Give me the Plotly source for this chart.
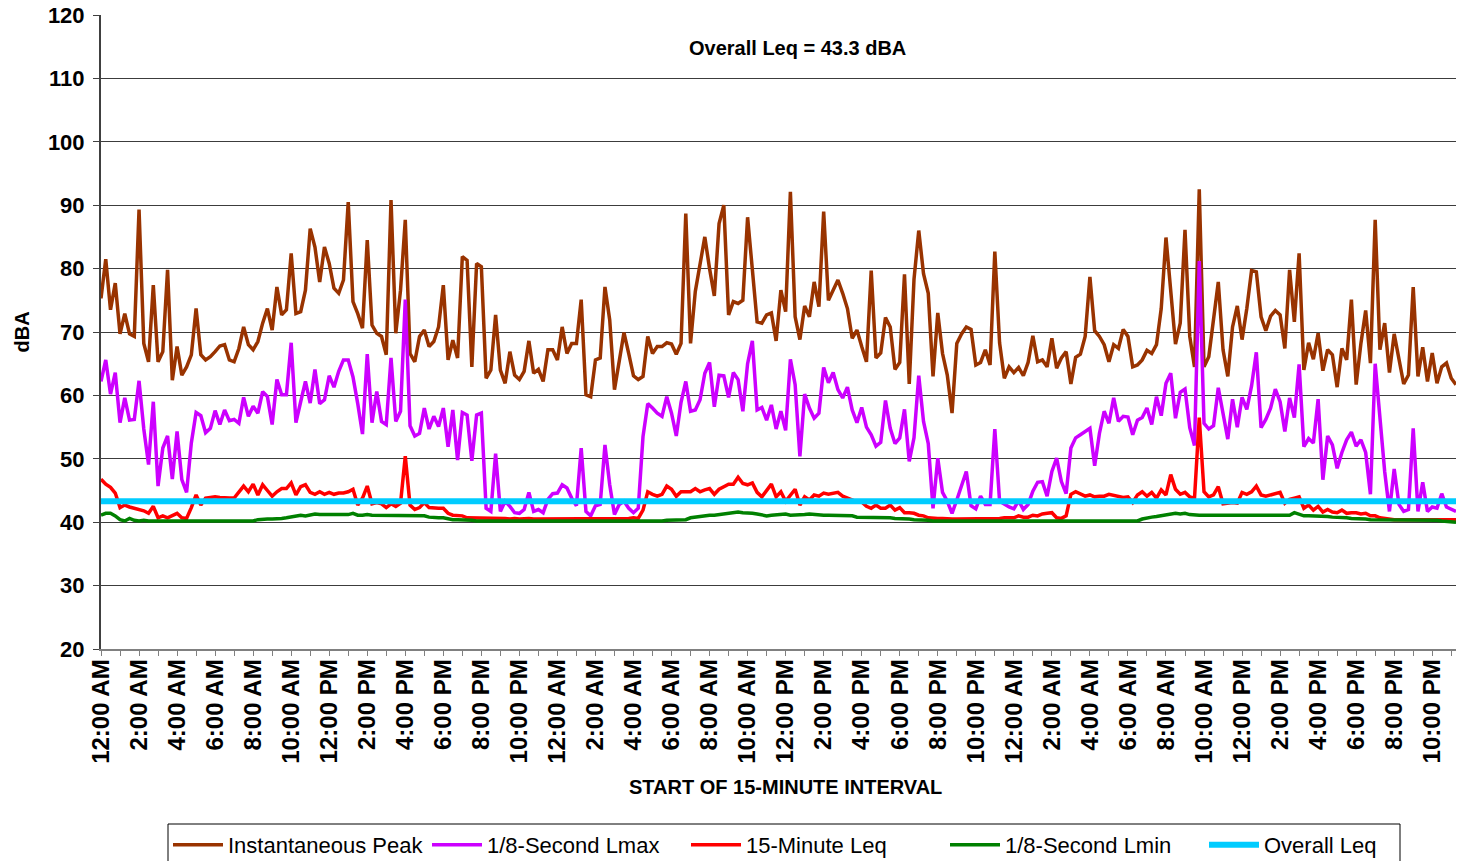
import plotly.graph_objects as go

FONT = "Arial, 'Liberation Sans', sans-serif"
PEAK_COLOR = "#993300"
LMAX_COLOR = "#CC00FF"
LEQ_COLOR = "#FF0000"
LMIN_COLOR = "#008000"
OVERALL_COLOR = "#00CCFF"
GRID_COLOR = "#3c3c3c"

# labels of the 2-hour ticks, one day
DAY_LABELS = ["12:00 AM", "2:00 AM", "4:00 AM", "6:00 AM", "8:00 AM", "10:00 AM",
              "12:00 PM", "2:00 PM", "4:00 PM", "6:00 PM", "8:00 PM", "10:00 PM"]
N_DAYS = 3

# 15-minute intervals
peak = [
    75.3, 81.5, 73.5, 77.7, 69.7, 72.9, 69.7, 69.3, 89.3, 68.2,
    65.3, 77.4, 65.3, 66.9, 79.8, 62.4, 67.7, 63.2, 64.5, 66.4,
    73.7, 66.4, 65.6, 66.1, 66.9, 67.8, 68.0, 65.6, 65.3, 67.4,
    70.8, 68.0, 67.2, 68.5, 71.4, 73.7, 70.3, 77.1, 72.7, 73.5,
    82.4, 72.9, 73.2, 76.6, 86.3, 83.4, 77.9, 83.4, 80.8, 76.9,
    76.1, 78.2, 90.5, 74.8, 72.9, 70.6, 84.5, 71.1, 69.8, 69.3,
    66.4, 90.8, 69.8, 76.6, 87.7, 66.6, 65.3, 69.3, 70.3, 67.7,
    68.5, 70.8, 77.4, 65.6, 68.7, 65.9, 81.9, 81.3, 64.5, 80.8,
    80.3, 62.7, 64.0, 72.7, 64.0, 61.9, 66.9, 63.2, 62.5, 63.8,
    68.6, 63.5, 64.1, 62.2, 67.2, 67.2, 65.6, 70.8, 66.6, 68.2,
    68.2, 75.1, 60.1, 59.8, 65.6, 65.9, 77.1, 71.9, 60.9, 65.6,
    69.9, 66.6, 63.1, 62.5, 63.0, 69.3, 66.6, 67.7, 67.7, 68.3,
    68.1, 66.5, 68.2, 88.7, 68.2, 76.4, 80.8, 85.0, 80.0, 75.7,
    87.1, 90.0, 72.7, 74.8, 74.5, 75.0, 88.1, 79.8, 71.6, 71.4,
    72.7, 73.0, 68.6, 76.6, 73.2, 92.1, 72.4, 68.8, 74.1, 72.4,
    77.9, 74.0, 89.0, 75.0, 76.6, 78.2, 76.1, 73.7, 69.0, 70.3,
    67.7, 65.3, 79.7, 65.9, 66.7, 72.3, 70.8, 64.1, 65.2, 79.1,
    61.8, 78.3, 86.0, 79.2, 76.1, 63.0, 73.0, 66.6, 63.2, 57.2,
    68.2, 69.7, 70.8, 70.4, 64.8, 65.2, 67.2, 64.8, 82.7, 68.3,
    62.7, 64.5, 63.6, 64.4, 63.1, 65.2, 69.4, 65.3, 65.6, 64.5,
    69.0, 64.3, 65.9, 66.9, 61.8, 66.0, 66.5, 69.3, 78.7, 70.2,
    69.3, 68.0, 65.3, 68.0, 67.4, 70.4, 69.3, 64.5, 64.8, 65.6,
    67.1, 66.6, 68.0, 73.7, 84.9, 76.6, 68.1, 71.4, 86.1, 69.3,
    64.5, 92.5, 64.5, 66.1, 72.2, 77.9, 67.2, 63.0, 70.8, 74.1,
    68.8, 73.7, 79.7, 79.5, 72.4, 70.2, 72.5, 73.4, 72.7, 67.4,
    79.8, 71.6, 82.4, 64.0, 68.3, 65.7, 69.8, 63.9, 67.2, 66.4,
    61.3, 67.4, 65.6, 75.1, 61.7, 68.2, 73.4, 65.1, 87.7, 67.2,
    71.4, 63.6, 69.7, 65.9, 61.8, 63.2, 77.1, 63.0, 67.6, 62.2,
    66.7, 61.9, 64.5, 65.1, 62.7, 61.7,
]

lmax = [
    62.2, 65.6, 60.2, 63.6, 55.7, 59.6, 56.1, 56.2, 62.3, 54.7,
    49.1, 59.0, 45.7, 51.7, 53.6, 46.8, 54.3, 46.7, 44.7, 52.5,
    57.3, 56.8, 54.1, 54.8, 57.6, 55.4, 57.7, 56.0, 56.2, 55.6,
    59.7, 56.7, 58.3, 57.2, 60.6, 59.8, 55.4, 62.5, 60.1, 60.1,
    68.3, 55.7, 59.0, 62.2, 58.8, 64.1, 58.7, 59.3, 63.1, 61.3,
    63.8, 65.6, 65.6, 62.9, 58.7, 53.9, 66.5, 55.7, 60.6, 55.9,
    55.4, 65.9, 55.9, 57.5, 75.1, 55.2, 53.6, 54.0, 58.0, 54.7,
    56.7, 55.1, 58.0, 51.9, 57.7, 49.8, 57.3, 56.9, 49.7, 56.9,
    57.2, 42.2, 41.7, 50.8, 41.7, 43.3, 42.5, 41.5, 41.4, 42.0,
    44.7, 41.7, 42.0, 41.5, 43.6, 44.5, 44.6, 45.9, 45.4, 43.8,
    42.6, 51.7, 41.7, 41.0, 42.6, 42.8, 52.2, 45.9, 41.2, 42.8,
    43.3, 42.2, 41.5, 42.2, 53.5, 58.7, 58.0, 57.2, 56.7, 59.8,
    57.2, 53.6, 58.9, 62.2, 57.5, 57.7, 59.3, 63.5, 65.2, 58.2,
    63.2, 63.1, 59.7, 63.6, 62.5, 57.5, 65.0, 68.6, 57.7, 58.1,
    56.1, 58.5, 54.7, 57.5, 54.5, 65.7, 61.7, 50.4, 60.2, 58.0,
    56.4, 57.2, 64.4, 62.0, 63.6, 60.9, 59.6, 61.3, 57.7, 55.7,
    58.1, 55.0, 53.8, 52.0, 52.6, 59.2, 54.8, 52.4, 53.3, 57.8,
    49.6, 53.3, 63.1, 55.9, 52.4, 42.2, 50.1, 44.7, 43.3, 41.4,
    43.5, 45.7, 48.0, 42.6, 42.1, 44.1, 42.8, 42.8, 54.7, 43.3,
    42.8, 42.4, 42.1, 43.4, 42.0, 42.8, 44.9, 46.3, 46.4, 44.1,
    48.0, 50.1, 46.4, 44.5, 51.7, 53.3, 53.8, 54.3, 54.8, 48.9,
    54.0, 57.5, 55.6, 59.6, 55.9, 56.7, 56.6, 53.8, 56.1, 56.5,
    58.0, 55.4, 59.8, 56.8, 61.9, 63.5, 56.4, 60.5, 61.0, 54.9,
    52.1, 81.2, 55.6, 54.7, 55.2, 61.2, 56.8, 53.1, 59.4, 55.0,
    59.7, 57.8, 61.5, 66.8, 54.9, 56.2, 58.0, 61.0, 59.0, 54.3,
    59.6, 56.5, 64.9, 51.9, 53.2, 52.5, 59.4, 46.7, 53.6, 52.2,
    48.5, 51.0, 53.0, 54.2, 52.0, 53.0, 51.0, 44.4, 65.0, 57.1,
    48.0, 41.7, 48.4, 42.8, 41.7, 42.0, 54.8, 41.7, 46.3, 41.7,
    42.4, 42.2, 44.5, 42.4, 42.0, 41.7,
]

leq = [
    46.8, 46.0, 45.5, 44.6, 42.3, 42.7, 42.4, 42.2, 41.9, 41.8,
    41.4, 42.5, 40.7, 41.0, 40.7, 41.0, 41.4, 40.7, 40.6, 42.3,
    44.3, 42.7, 43.8, 43.9, 44.0, 43.9, 43.8, 43.8, 43.8, 44.8,
    45.7, 44.8, 46.0, 44.3, 45.9, 45.0, 44.1, 44.8, 45.3, 45.3,
    46.2, 44.3, 45.6, 45.9, 44.7, 44.4, 44.8, 44.4, 44.7, 44.4,
    44.6, 44.6, 44.8, 45.2, 42.7, 43.8, 45.7, 42.9, 43.1, 42.9,
    42.3, 42.9, 42.5, 43.0, 50.4, 42.7, 42.0, 42.3, 43.1, 42.3,
    42.2, 42.2, 42.2, 41.4, 41.1, 41.1, 41.0, 40.7, 40.7, 40.6,
    40.6, 40.6, 40.6, 40.7, 40.6, 40.6, 40.5, 40.6, 40.5, 40.6,
    40.6, 40.5, 40.5, 40.6, 40.6, 40.5, 40.5, 40.5, 40.5, 40.6,
    40.5, 40.5, 40.5, 40.5, 40.5, 40.5, 40.5, 40.5, 40.5, 40.6,
    40.6, 40.6, 40.7, 40.6, 41.9, 44.8, 44.4, 44.1, 44.4, 45.7,
    45.2, 44.1, 44.8, 44.8, 44.8, 45.3, 44.8, 45.1, 45.3, 44.4,
    45.2, 45.6, 46.0, 46.0, 47.1, 46.1, 45.9, 46.2, 44.7, 44.0,
    45.0, 46.0, 44.0, 44.8, 43.3, 44.3, 45.2, 42.7, 44.0, 43.5,
    44.3, 44.1, 44.6, 44.4, 44.6, 44.7, 44.1, 43.8, 43.4, 43.2,
    43.2, 42.5, 42.2, 42.7, 42.2, 42.2, 42.7, 41.9, 42.3, 41.5,
    41.5, 41.4, 41.1, 41.0, 40.7, 40.6, 40.6, 40.6, 40.5, 40.5,
    40.5, 40.5, 40.5, 40.5, 40.5, 40.6, 40.6, 40.6, 40.6, 40.6,
    40.7, 40.7, 40.7, 41.0, 40.8, 40.8, 41.1, 41.0, 41.3, 41.4,
    41.5, 40.7, 40.6, 41.0, 44.4, 44.8, 44.4, 44.1, 44.3, 44.0,
    44.1, 44.1, 44.4, 44.2, 44.1, 43.9, 44.0, 43.1, 44.3, 44.8,
    44.1, 44.7, 43.8, 45.1, 44.3, 47.5, 45.2, 44.4, 44.7, 44.0,
    43.8, 56.5, 44.8, 44.0, 44.3, 45.6, 42.9, 43.0, 43.1, 43.0,
    44.7, 44.4, 44.8, 45.7, 44.3, 44.1, 44.3, 44.4, 44.7, 43.0,
    43.6, 43.8, 44.0, 42.2, 42.7, 41.9, 42.5, 41.6, 42.0, 41.6,
    41.5, 41.9, 41.4, 41.5, 41.5, 41.3, 41.4, 41.0, 41.0, 40.7,
    40.6, 40.4, 40.4, 40.4, 40.4, 40.4, 40.4, 40.4, 40.4, 40.4,
    40.4, 40.4, 40.4, 40.4, 40.4, 40.4,
]

lmin = [
    41.1, 41.4, 41.4, 41.0, 40.4, 40.2, 40.6, 40.3, 40.2, 40.3,
    40.2, 40.2, 40.3, 40.2, 40.2, 40.2, 40.3, 40.2, 40.2, 40.2,
    40.2, 40.2, 40.2, 40.3, 40.2, 40.2, 40.2, 40.2, 40.2, 40.2,
    40.2, 40.2, 40.2, 40.4, 40.5, 40.5, 40.5, 40.5, 40.6, 40.7,
    40.8, 41.0, 41.1, 41.0, 41.1, 41.3, 41.2, 41.2, 41.1, 41.1,
    41.1, 41.2, 41.2, 41.4, 41.1, 41.1, 41.2, 41.1, 41.1, 41.1,
    41.1, 41.1, 41.1, 41.1, 41.1, 41.0, 41.0, 41.0, 41.0, 40.8,
    40.7, 40.7, 40.7, 40.5, 40.4, 40.4, 40.4, 40.4, 40.3, 40.2,
    40.2, 40.2, 40.1, 40.2, 40.2, 40.2, 40.2, 40.2, 40.2, 40.2,
    40.2, 40.2, 40.2, 40.2, 40.2, 40.2, 40.2, 40.2, 40.2, 40.2,
    40.2, 40.2, 40.2, 40.2, 40.2, 40.2, 40.2, 40.2, 40.2, 40.2,
    40.2, 40.2, 40.2, 40.2, 40.2, 40.2, 40.2, 40.2, 40.2, 40.3,
    40.3, 40.3, 40.4, 40.4, 40.7, 40.8, 41.0, 41.0, 41.1, 41.1,
    41.2, 41.3, 41.4, 41.5, 41.6, 41.5, 41.5, 41.4, 41.3, 41.1,
    41.0, 41.1, 41.2, 41.2, 41.3, 41.1, 41.1, 41.2, 41.2, 41.3,
    41.2, 41.2, 41.1, 41.1, 41.1, 41.1, 41.1, 41.0, 41.0, 40.8,
    40.8, 40.8, 40.8, 40.7, 40.7, 40.7, 40.7, 40.6, 40.6, 40.5,
    40.5, 40.4, 40.4, 40.3, 40.3, 40.2, 40.2, 40.2, 40.2, 40.2,
    40.2, 40.2, 40.2, 40.2, 40.2, 40.2, 40.2, 40.2, 40.2, 40.2,
    40.2, 40.2, 40.2, 40.2, 40.2, 40.2, 40.2, 40.2, 40.2, 40.2,
    40.2, 40.2, 40.2, 40.2, 40.2, 40.2, 40.2, 40.2, 40.2, 40.2,
    40.2, 40.2, 40.2, 40.2, 40.2, 40.2, 40.2, 40.2, 40.2, 40.5,
    40.7, 40.8, 40.9, 41.0, 41.2, 41.3, 41.4, 41.3, 41.4, 41.2,
    41.1, 41.1, 41.1, 41.1, 41.1, 41.1, 41.1, 41.1, 41.1, 41.1,
    41.1, 41.1, 41.1, 41.1, 41.1, 41.1, 41.1, 41.1, 41.2, 41.1,
    41.1, 41.5, 41.2, 41.0, 41.0, 41.0, 41.0, 41.0, 40.9, 40.8,
    40.8, 40.7, 40.7, 40.6, 40.6, 40.5, 40.5, 40.4, 40.4, 40.4,
    40.4, 40.4, 40.4, 40.4, 40.4, 40.4, 40.4, 40.4, 40.4, 40.4,
    40.4, 40.3, 40.2, 40.1, 40.0, 40.0,
]

OVERALL_LEQ = 43.3

assert len(peak) == len(lmax) == len(leq) == len(lmin)
x = list(range(len(peak)))

# one tick per hour (4 intervals), a label every 2 hours
tick_vals, tick_text = [], []
labels = DAY_LABELS * N_DAYS
for k in range(0, len(x), 4):
    tick_vals.append(k)
    tick_text.append(labels[k // 8] if k % 8 == 0 else "")

fig = go.Figure()
series = [
    ("Instantaneous Peak", peak, PEAK_COLOR),
    ("1/8-Second Lmax", lmax, LMAX_COLOR),
    ("15-Minute Leq", leq, LEQ_COLOR),
    ("1/8-Second Lmin", lmin, LMIN_COLOR),
]
for name, y, color in series:
    fig.add_trace(go.Scatter(x=x, y=y, name=name, mode="lines",
                             line=dict(color=color, width=3.5)))

fig.add_trace(go.Scatter(x=[x[0], x[-1]], y=[OVERALL_LEQ, OVERALL_LEQ],
                         name="Overall Leq", mode="lines",
                         line=dict(color=OVERALL_COLOR, width=6)))

fig.add_annotation(text=f"<b>Overall Leq = {OVERALL_LEQ} dBA</b>",
                   xref="paper", yref="paper", x=0.514, y=0.948,
                   xanchor="center", yanchor="middle",
                   showarrow=False, font=dict(size=20, color="#000000"))
fig.add_annotation(text="<b>dBA</b>", xref="paper", yref="paper",
                   x=-0.058, y=0.5, xanchor="center", yanchor="middle",
                   textangle=-90, showarrow=False,
                   font=dict(size=20, color="#000000"))
fig.add_annotation(text="<b>START OF 15-MINUTE INTERVAL</b>", xref="paper", yref="paper",
                   x=0.505, y=-0.2177, xanchor="center", yanchor="middle", showarrow=False,
                   font=dict(size=20, color="#000000"))

# legend frame (the legend's own border would run past the last entry)
fig.add_shape(type="rect", xref="paper", yref="paper",
              x0=(168 - 101) / 1355, x1=(1400 - 101) / 1355,
              y0=(649 - 824) / 634, y1=(649 - 866) / 634,
              line=dict(color="#000000", width=1), fillcolor="rgba(0,0,0,0)")

fig.update_layout(
    width=1457, height=861,
    margin=dict(l=101, r=1, t=15, b=212),
    paper_bgcolor="#ffffff", plot_bgcolor="#ffffff",
    font=dict(family=FONT, color="#000000"),
    showlegend=True,
    legend=dict(
        orientation="h", xref="container", yref="container",
        x=168 / 1457, y=1 - 824 / 861, xanchor="left", yanchor="top",
        borderwidth=0, bgcolor="rgba(0,0,0,0)",
        itemwidth=50, entrywidth=194, entrywidthmode="pixels",
        font=dict(size=22, family=FONT, color="#000000"),
    ),
    xaxis=dict(
        range=[0, len(x) - 1], tickmode="array", tickvals=tick_vals, ticktext=tick_text,
        tickangle=-90, ticks="outside", ticklen=5, tickcolor="#808080",
        showgrid=False, zeroline=False, showline=True, linecolor="#808080", linewidth=1.5,
        tickfont=dict(size=24, family=FONT, weight="bold", color="#000000"),
        ticklabelstandoff=-6, automargin=False,
    ),
    yaxis=dict(
        range=[20, 120], dtick=10, ticks="outside", ticklen=6, tickcolor="#404040",
        showgrid=True, gridcolor=GRID_COLOR, gridwidth=1, zeroline=False,
        showline=True, linecolor="#404040", linewidth=2,
        tickfont=dict(size=22, family=FONT, weight="bold", color="#000000"),
        ticklabelstandoff=4, automargin=False,
    ),
)

fig.write_html("out.html", config={"displayModeBar": False},
               post_script="document.body.style.margin = '0px';")
